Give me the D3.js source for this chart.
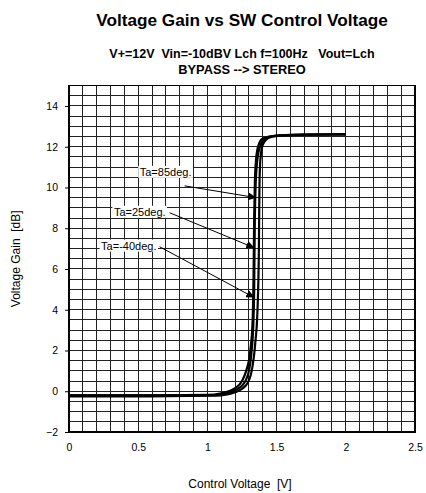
<!DOCTYPE html>
<html>
<meta charset="utf-8">
<head>
<script src="https://d3js.org/d3.v7.min.js"></script>
<style>
    body { margin: 0; background: #fff; }
    text { font-family: "Liberation Sans", Arial, sans-serif; fill: #000; }
</style>
</head>
<body>
<script>
    // curve data: [control voltage V, gain dB]
    var curveA = [[0,-0.2],[0.5,-0.2],[1.0,-0.18],[1.1,-0.1],[1.2,0.15],[1.25,0.5],[1.28,1.0],[1.31,2.0],[1.327,3.5],[1.334,6],[1.338,8.5],[1.343,10.3],[1.352,11.4],[1.368,12.05],[1.4,12.4],[1.5,12.55],[1.7,12.6],[2.0,12.62]];
    var curveB = [[0,-0.2],[0.5,-0.2],[1.0,-0.2],[1.1,-0.15],[1.2,0.05],[1.26,0.35],[1.3,1.0],[1.32,2.0],[1.333,3.5],[1.338,5],[1.342,8],[1.348,10],[1.36,11.3],[1.38,12.0],[1.42,12.4],[1.5,12.55],[1.7,12.6],[2.0,12.6]];
    var curveC = [[0,-0.25],[0.5,-0.25],[1.0,-0.22],[1.1,-0.2],[1.2,-0.05],[1.28,0.3],[1.32,1.0],[1.345,2.3],[1.362,4],[1.372,7],[1.376,10],[1.382,11.3],[1.4,12.1],[1.45,12.45],[1.55,12.55],[1.7,12.58],[2.0,12.6]];
    var curves = [curveA, curveB, curveC];

    var xTicks = [0, 0.5, 1, 1.5, 2, 2.5];
    var yTicks = [-2, 0, 2, 4, 6, 8, 10, 12, 14];

    // annotations: label, label centre, arrow start, arrow tip
    var labels = ["Ta=85deg.", "Ta=25deg.", "Ta=-40deg."];
    var labelPos = [[0.698, 10.76], [0.511, 8.8], [0.432, 7.14]];
    var arrowFrom = [[0.835, 10.08], [0.727, 8.76], [0.655, 7.09]];
    var arrowTo = [[1.352, 9.5], [1.338, 7.04], [1.338, 4.6]];

    var W = 426, H = 493;
    var margin = {top: 85.6, right: 11, bottom: 61, left: 69};
    var width = W - margin.left - margin.right,
        height = H - margin.top - margin.bottom;

    var x = d3.scaleLinear().domain([0, 2.5]).range([0, width]);
    var y = d3.scaleLinear().domain([-2, 15]).range([height, 0]);

    var root = d3.select("body").append("svg")
        .attr("width", W)
        .attr("height", H);

    // titles
    root.append("text")
        .attr("x", 242).attr("y", 26)
        .attr("text-anchor", "middle")
        .style("font-size", "17.2px").style("font-weight", "bold")
        .text("Voltage Gain vs SW Control Voltage");
    root.append("text")
        .attr("x", 242).attr("y", 58)
        .attr("text-anchor", "middle")
        .style("font-size", "12.5px").style("font-weight", "bold")
        .style("white-space", "pre").attr("xml:space", "preserve")
        .text("V+=12V  Vin=-10dBV Lch f=100Hz   Vout=Lch");
    root.append("text")
        .attr("x", 242).attr("y", 74)
        .attr("text-anchor", "middle")
        .style("font-size", "12.8px").style("font-weight", "bold")
        .text("BYPASS --> STEREO");

    var svg = root.append("g")
        .attr("transform", "translate(" + margin.left + "," + margin.top + ")");

    // grid
    var gx = d3.range(0, 26).map(function(i) { return i / 10; });
    var gy = d3.range(0, 35).map(function(i) { return -2 + i / 2; });
    svg.append("g").selectAll("line").data(gx).enter().append("line")
        .attr("x1", function(d) { return x(d); }).attr("x2", function(d) { return x(d); })
        .attr("y1", 0).attr("y2", height)
        .attr("stroke", "#222").attr("stroke-width", 1)
        .attr("shape-rendering", "crispEdges");
    svg.append("g").selectAll("line").data(gy).enter().append("line")
        .attr("y1", function(d) { return y(d); }).attr("y2", function(d) { return y(d); })
        .attr("x1", 0).attr("x2", width)
        .attr("stroke", "#222").attr("stroke-width", 1)
        .attr("shape-rendering", "crispEdges");

    // frame
    svg.append("rect")
        .attr("width", width).attr("height", height)
        .attr("fill", "none").attr("stroke", "#000").attr("stroke-width", 1.2)
        .attr("shape-rendering", "crispEdges");

    // axes
    var xAxis = svg.append("g")
        .attr("transform", "translate(0," + height + ")")
        .call(d3.axisBottom(x).tickValues(xTicks).tickSize(0).tickPadding(12)
            .tickFormat(function(d) { return d; }));
    var yAxis = svg.append("g")
        .call(d3.axisLeft(y).tickValues(yTicks).tickSize(4).tickPadding(7));
    [xAxis, yAxis].forEach(function(a) {
        a.select(".domain").remove();
        a.selectAll("text").style("font-family", "'Liberation Sans', Arial, sans-serif")
            .style("font-size", "10.5px").attr("fill", "#000");
        a.selectAll("line").attr("stroke", "#000");
    });

    // axis labels
    root.append("text")
        .attr("x", 240).attr("y", 488)
        .attr("text-anchor", "middle")
        .style("font-size", "12px")
        .style("white-space", "pre").attr("xml:space", "preserve")
        .text("Control Voltage  [V]");
    root.append("text")
        .attr("transform", "translate(20," + (margin.top + height / 2) + ") rotate(-90)")
        .attr("text-anchor", "middle")
        .style("font-size", "12px")
        .style("white-space", "pre").attr("xml:space", "preserve")
        .text("Voltage Gain  [dB]");

    // curves
    var line = d3.line()
        .x(function(d) { return x(d[0]); })
        .y(function(d) { return y(d[1]); })
        .curve(d3.curveMonotoneX);
    svg.selectAll(".curve").data(curves).enter().append("path")
        .attr("class", "curve")
        .attr("d", line)
        .attr("fill", "none")
        .attr("stroke", "#000")
        .attr("stroke-width", 2.2);

    // annotations
    var defs = root.append("defs");
    defs.append("marker")
        .attr("id", "arrow")
        .attr("viewBox", "0 0 10 10")
        .attr("refX", 10).attr("refY", 5)
        .attr("markerWidth", 8).attr("markerHeight", 8)
        .attr("markerUnits", "userSpaceOnUse")
        .attr("orient", "auto")
        .append("path").attr("d", "M0,0L10,5L0,10z").attr("fill", "#000");

    labels.forEach(function(t, i) {
        svg.append("line")
            .attr("x1", x(arrowFrom[i][0])).attr("y1", y(arrowFrom[i][1]))
            .attr("x2", x(arrowTo[i][0])).attr("y2", y(arrowTo[i][1]))
            .attr("stroke", "#000").attr("stroke-width", 1)
            .attr("marker-end", "url(#arrow)");
        var g = svg.append("g");
        var txt = g.append("text")
            .attr("x", x(labelPos[i][0])).attr("y", y(labelPos[i][1]))
            .attr("dy", "0.35em")
            .attr("text-anchor", "middle")
            .style("font-size", "11px")
            .text(t);
        var bb = txt.node().getBBox();
        g.insert("rect", "text")
            .attr("x", bb.x - 1.5).attr("y", bb.y)
            .attr("width", bb.width + 3).attr("height", bb.height)
            .attr("fill", "#fff");
    });
</script>
</body>
</html>
